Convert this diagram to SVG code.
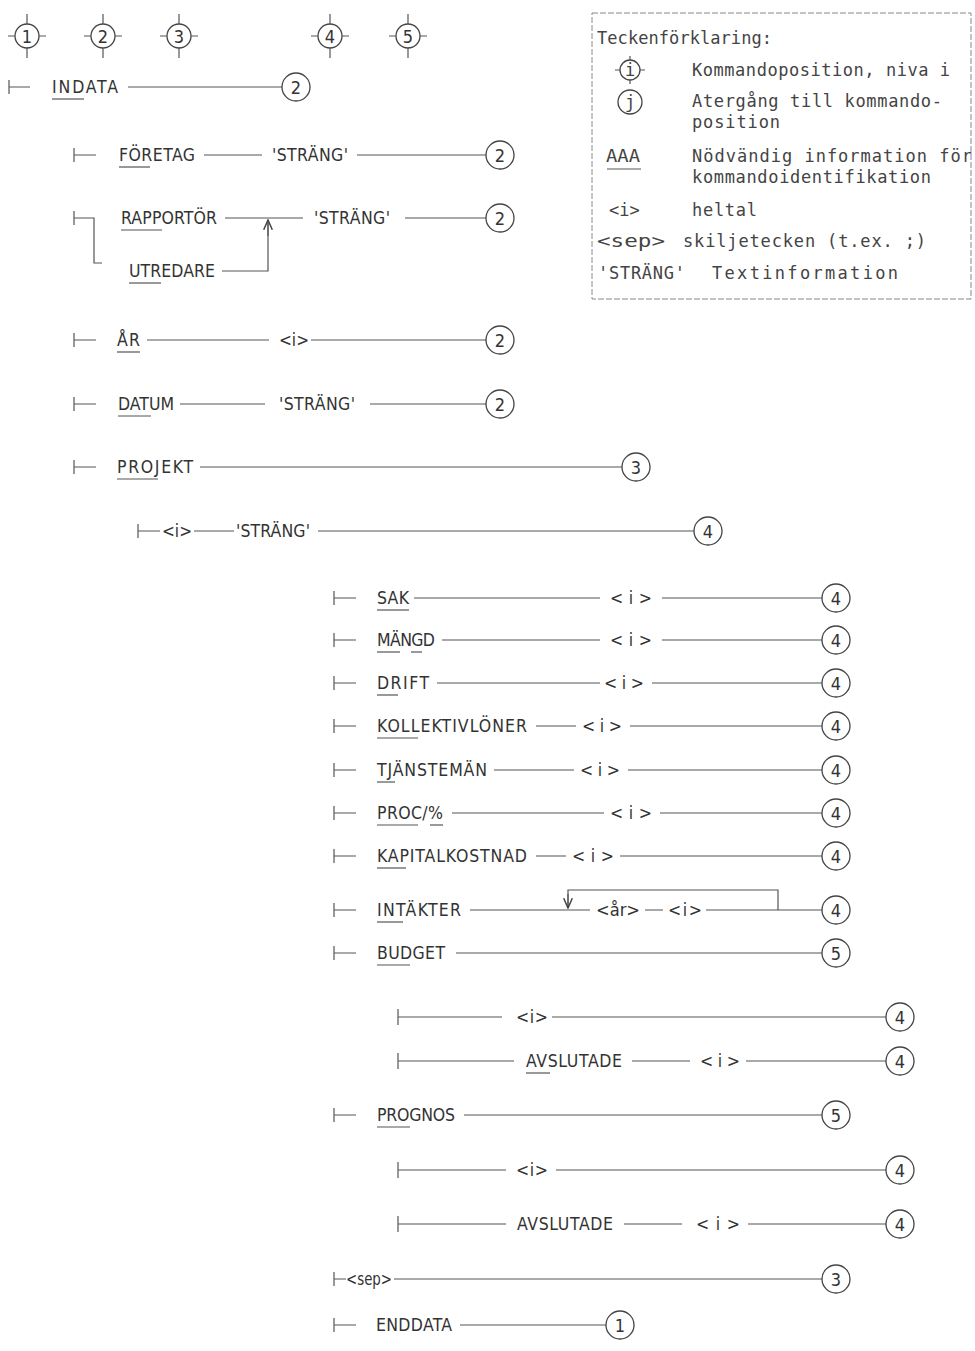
<svg xmlns="http://www.w3.org/2000/svg" width="975" height="1351" viewBox="0 0 975 1351">
<defs>
<style>
.t{font-family:"DejaVu Sans Condensed","Liberation Sans",sans-serif;font-size:17.5px;fill:#333;dominant-baseline:central}
.lg{font-family:"DejaVu Sans Mono","Liberation Mono",monospace;font-size:17px;fill:#444;dominant-baseline:central}
.n{font-family:"DejaVu Sans Condensed","Liberation Sans",sans-serif;font-size:18px;fill:#333;text-anchor:middle;dominant-baseline:central}
.ln{stroke:#555;stroke-width:1.2;fill:none}
.u{stroke:#555;stroke-width:1.2}
.c{stroke:#444;stroke-width:1.3;fill:#fff}
.box{stroke:#888;stroke-width:1;stroke-dasharray:6 2;fill:none}
</style>
<marker id="ah" viewBox="0 0 10 10" refX="9" refY="5" markerWidth="9" markerHeight="9" orient="auto">
<path d="M0,1 L9,5 L0,9" fill="none" stroke="#444" stroke-width="1.4"/>
</marker>
</defs>
<rect width="975" height="1351" fill="#fff"/>

<!-- header level positions -->
<g id="levels">
<g id="lv1"><circle class="c" cx="27" cy="36" r="12"/><path class="ln" d="M8,36h7M39,36h7M27,14v10M27,48v10"/><text class="n" x="27" y="36">1</text></g>
<g id="lv2"><circle class="c" cx="103" cy="36" r="12"/><path class="ln" d="M84,36h7M115,36h7M103,14v10M103,48v10"/><text class="n" x="103" y="36">2</text></g>
<g id="lv3"><circle class="c" cx="179" cy="36" r="12"/><path class="ln" d="M160,36h7M191,36h7M179,14v10M179,48v10"/><text class="n" x="179" y="36">3</text></g>
<g id="lv4"><circle class="c" cx="330" cy="36" r="12"/><path class="ln" d="M311,36h7M342,36h7M330,14v10M330,48v10"/><text class="n" x="330" y="36">4</text></g>
<g id="lv5"><circle class="c" cx="408" cy="36" r="12"/><path class="ln" d="M389,36h7M420,36h7M408,14v10M408,48v10"/><text class="n" x="408" y="36">5</text></g>
</g>

<!-- legend -->
<g id="legend">
<rect class="box" x="592" y="13" width="379" height="286"/>
<text class="lg" x="597" y="38" textLength="175" lengthAdjust="spacing">Teckenförklaring:</text>
<circle class="c" cx="630" cy="70" r="10"/><path class="ln" d="M615,70h5M640,70h5M630,56v4M630,80v4"/>
<text class="lg" x="630" y="70" text-anchor="middle">i</text>
<text class="lg" x="692" y="70" textLength="258" lengthAdjust="spacing">Kommandoposition, niva i</text>
<circle class="c" cx="630" cy="102" r="12"/>
<text class="lg" x="630" y="102" text-anchor="middle">j</text>
<text class="lg" x="692" y="101" textLength="250" lengthAdjust="spacing">Atergång till kommando-</text>
<text class="lg" x="692" y="122" textLength="88" lengthAdjust="spacing">position</text>
<text class="lg" x="606" y="156" textLength="34" lengthAdjust="spacingAndGlyphs">AAA</text>
<line class="u" x1="607" y1="169" x2="641" y2="169"/>
<text class="lg" x="692" y="156" textLength="280" lengthAdjust="spacing">Nödvändig information för</text>
<text class="lg" x="692" y="177" textLength="239" lengthAdjust="spacing">kommandoidentifikation</text>
<text class="lg" x="609" y="210">&lt;i&gt;</text>
<text class="lg" x="692" y="210" textLength="65" lengthAdjust="spacing">heltal</text>
<text class="lg" x="597" y="241" textLength="68" lengthAdjust="spacingAndGlyphs">&lt;sep&gt;</text>
<text class="lg" x="683" y="241" textLength="243" lengthAdjust="spacing">skiljetecken (t.ex. ;)</text>
<text class="lg" x="598" y="273" textLength="87" lengthAdjust="spacing">'STRÄNG'</text>
<text class="lg" x="712" y="273" textLength="186" lengthAdjust="spacing">Textinformation</text>
</g>

<!-- connectors -->
<g id="connectors">
<path class="ln" d="M9,80v14M9,87h21M128,87h154"/>
<path class="ln" d="M74,148v14M74,155h22M204,155h58M357,155h129"/>
<path class="ln" d="M74,211v14M74,218h20v45h8M225,218h78M405,218h81M222,271h46v-48"/>
<path class="ln" d="M268,236v-16" marker-end="url(#ah)"/>
<path class="ln" d="M74,333v14M74,340h22M147,340h122M311,340h175"/>
<path class="ln" d="M74,397v14M74,404h22M180,404h85M370,404h116"/>
<path class="ln" d="M74,460v14M74,467h22M200,467h422"/>
<path class="ln" d="M138,524v14M138,531h22M194,531h40M318,531h376"/>
<path class="ln" d="M334,591v14M334,598h22M414,598h186M662,598h160"/>
<path class="ln" d="M334,633v14M334,640h22M442,640h158M662,640h160"/>
<path class="ln" d="M334,676v14M334,683h22M437,683h163M652,683h170"/>
<path class="ln" d="M334,719v14M334,726h22M536,726h40M630,726h192"/>
<path class="ln" d="M334,763v14M334,770h22M494,770h80M628,770h194"/>
<path class="ln" d="M334,806v14M334,813h22M452,813h152M660,813h162"/>
<path class="ln" d="M334,849v14M334,856h22M536,856h30M620,856h202"/>
<path class="ln" d="M334,903v14M334,910h22M470,910h120M645,910h18M706,910h116M778,910v-20h-210v18"/>
<path class="ln" d="M568,894v14" marker-end="url(#ah)"/>
<path class="ln" d="M334,946v14M334,953h22M456,953h366"/>
<path class="ln" d="M398,1009v16M398,1017h104M552,1017h334"/>
<path class="ln" d="M398,1053v16M398,1061h116M632,1061h58M746,1061h140"/>
<path class="ln" d="M334,1108v14M334,1115h22M464,1115h358"/>
<path class="ln" d="M398,1162v16M398,1170h108M556,1170h330"/>
<path class="ln" d="M398,1216v16M398,1224h108M624,1224h58M748,1224h138"/>
<path class="ln" d="M334,1272v14M334,1279h12M394,1279h428"/>
<path class="ln" d="M334,1318v14M334,1325h22M460,1325h146"/>
</g>

<!-- nodes -->
<g id="r-indata"><text class="t" x="52" y="87" textLength="66" lengthAdjust="spacing">INDATA</text><line class="u" x1="52" y1="99" x2="84" y2="99"/><circle class="c" cx="296" cy="87" r="14"/><text class="n" x="296" y="87">2</text></g>

<g id="r-foretag"><text class="t" x="119" y="155" textLength="76" lengthAdjust="spacing">FÖRETAG</text><line class="u" x1="119" y1="167" x2="150" y2="167"/>
<text class="t" x="272" y="155" textLength="76" lengthAdjust="spacing">'STRÄNG'</text><circle class="c" cx="500" cy="155" r="14"/><text class="n" x="500" y="155">2</text></g>

<g id="r-rapportor"><text class="t" x="121" y="218" textLength="96" lengthAdjust="spacing">RAPPORTÖR</text><line class="u" x1="121" y1="230" x2="162" y2="230"/>
<text class="t" x="314" y="218" textLength="76" lengthAdjust="spacing">'STRÄNG'</text><circle class="c" cx="500" cy="218" r="14"/><text class="n" x="500" y="218">2</text></g>

<g id="r-utredare"><text class="t" x="129" y="271" textLength="86" lengthAdjust="spacing">UTREDARE</text><line class="u" x1="129" y1="283" x2="161" y2="283"/></g>

<g id="r-ar"><text class="t" x="117" y="340" textLength="23" lengthAdjust="spacing">ÅR</text><line class="u" x1="117" y1="352" x2="140" y2="352"/>
<text class="t" x="279" y="340" textLength="30" lengthAdjust="spacingAndGlyphs">&lt;i&gt;</text><circle class="c" cx="500" cy="340" r="14"/><text class="n" x="500" y="340">2</text></g>

<g id="r-datum"><text class="t" x="118" y="404" textLength="56" lengthAdjust="spacing">DATUM</text><line class="u" x1="118" y1="416" x2="151" y2="416"/>
<text class="t" x="279" y="404" textLength="76" lengthAdjust="spacing">'STRÄNG'</text><circle class="c" cx="500" cy="404" r="14"/><text class="n" x="500" y="404">2</text></g>

<g id="r-projekt"><text class="t" x="117" y="467" textLength="76" lengthAdjust="spacing">PROJEKT</text><line class="u" x1="117" y1="479" x2="158" y2="479"/>
<circle class="c" cx="636" cy="467" r="14"/><text class="n" x="636" y="467">3</text></g>

<g id="r-i-strang"><text class="t" x="162" y="531" textLength="30" lengthAdjust="spacingAndGlyphs">&lt;i&gt;</text>
<text class="t" x="236" y="531" textLength="74" lengthAdjust="spacing">'STRÄNG'</text><circle class="c" cx="708" cy="531" r="14"/><text class="n" x="708" y="531">4</text></g>

<g id="r-sak"><text class="t" x="377" y="598" textLength="32" lengthAdjust="spacing">SAK</text><line class="u" x1="377" y1="610" x2="409" y2="610"/>
<text class="t" x="610" y="598" textLength="42" lengthAdjust="spacing">&lt;i&gt;</text><circle class="c" cx="836" cy="598" r="14"/><text class="n" x="836" y="598">4</text></g>

<g id="r-mangd"><text class="t" x="377" y="640" textLength="58" lengthAdjust="spacing">MÄNGD</text><line class="u" x1="377" y1="652" x2="400" y2="652"/><line class="u" x1="411" y1="652" x2="422" y2="652"/>
<text class="t" x="610" y="640" textLength="42" lengthAdjust="spacing">&lt;i&gt;</text><circle class="c" cx="836" cy="640" r="14"/><text class="n" x="836" y="640">4</text></g>

<g id="r-drift"><text class="t" x="377" y="683" textLength="52" lengthAdjust="spacing">DRIFT</text><line class="u" x1="377" y1="695" x2="398" y2="695"/>
<text class="t" x="604" y="683" textLength="40" lengthAdjust="spacing">&lt;i&gt;</text><circle class="c" cx="836" cy="683" r="14"/><text class="n" x="836" y="683">4</text></g>

<g id="r-kollektivloner"><text class="t" x="377" y="726" textLength="150" lengthAdjust="spacing">KOLLEKTIVLÖNER</text><line class="u" x1="377" y1="738" x2="418" y2="738"/>
<text class="t" x="582" y="726" textLength="40" lengthAdjust="spacing">&lt;i&gt;</text><circle class="c" cx="836" cy="726" r="14"/><text class="n" x="836" y="726">4</text></g>

<g id="r-tjansteman"><text class="t" x="377" y="770" textLength="110" lengthAdjust="spacing">TJÄNSTEMÄN</text><line class="u" x1="377" y1="782" x2="395" y2="782"/>
<text class="t" x="580" y="770" textLength="40" lengthAdjust="spacing">&lt;i&gt;</text><circle class="c" cx="836" cy="770" r="14"/><text class="n" x="836" y="770">4</text></g>

<g id="r-proc"><text class="t" x="377" y="813" textLength="66" lengthAdjust="spacing">PROC/%</text><line class="u" x1="377" y1="825" x2="418" y2="825"/><line class="u" x1="430" y1="825" x2="443" y2="825"/>
<text class="t" x="610" y="813" textLength="42" lengthAdjust="spacing">&lt;i&gt;</text><circle class="c" cx="836" cy="813" r="14"/><text class="n" x="836" y="813">4</text></g>

<g id="r-kapitalkostnad"><text class="t" x="377" y="856" textLength="150" lengthAdjust="spacing">KAPITALKOSTNAD</text><line class="u" x1="377" y1="868" x2="406" y2="868"/>
<text class="t" x="572" y="856" textLength="42" lengthAdjust="spacing">&lt;i&gt;</text><circle class="c" cx="836" cy="856" r="14"/><text class="n" x="836" y="856">4</text></g>

<g id="r-intakter"><text class="t" x="377" y="910" textLength="84" lengthAdjust="spacing">INTÄKTER</text><line class="u" x1="377" y1="922" x2="403" y2="922"/>
<text class="t" x="596" y="910" textLength="44" lengthAdjust="spacingAndGlyphs">&lt;år&gt;</text>
<text class="t" x="668" y="910" textLength="34" lengthAdjust="spacing">&lt;i&gt;</text><circle class="c" cx="836" cy="910" r="14"/><text class="n" x="836" y="910">4</text></g>

<g id="r-budget"><text class="t" x="377" y="953" textLength="68" lengthAdjust="spacing">BUDGET</text><line class="u" x1="377" y1="965" x2="410" y2="965"/>
<circle class="c" cx="836" cy="953" r="14"/><text class="n" x="836" y="953">5</text></g>

<g id="r-budget-i"><text class="t" x="516" y="1017" textLength="32" lengthAdjust="spacing">&lt;i&gt;</text><circle class="c" cx="900" cy="1017" r="14"/><text class="n" x="900" y="1017">4</text></g>

<g id="r-budget-avslutade"><text class="t" x="526" y="1061" textLength="96" lengthAdjust="spacing">AVSLUTADE</text><line class="u" x1="526" y1="1073" x2="550" y2="1073"/>
<text class="t" x="700" y="1061" textLength="40" lengthAdjust="spacing">&lt;i&gt;</text><circle class="c" cx="900" cy="1061" r="14"/><text class="n" x="900" y="1061">4</text></g>

<g id="r-prognos"><text class="t" x="377" y="1115" textLength="78" lengthAdjust="spacing">PROGNOS</text><line class="u" x1="377" y1="1127" x2="410" y2="1127"/>
<circle class="c" cx="836" cy="1115" r="14"/><text class="n" x="836" y="1115">5</text></g>

<g id="r-prognos-i"><text class="t" x="516" y="1170" textLength="32" lengthAdjust="spacing">&lt;i&gt;</text><circle class="c" cx="900" cy="1170" r="14"/><text class="n" x="900" y="1170">4</text></g>

<g id="r-prognos-avslutade"><text class="t" x="517" y="1224" textLength="96" lengthAdjust="spacing">AVSLUTADE</text>
<text class="t" x="696" y="1224" textLength="44" lengthAdjust="spacing">&lt;i&gt;</text><circle class="c" cx="900" cy="1224" r="14"/><text class="n" x="900" y="1224">4</text></g>

<g id="r-sep"><text class="t" x="346" y="1279" textLength="46" lengthAdjust="spacingAndGlyphs">&lt;sep&gt;</text><circle class="c" cx="836" cy="1279" r="14"/><text class="n" x="836" y="1279">3</text></g>

<g id="r-enddata"><text class="t" x="376" y="1325" textLength="76" lengthAdjust="spacing">ENDDATA</text><circle class="c" cx="620" cy="1325" r="14"/><text class="n" x="620" y="1325">1</text></g>
</svg>
